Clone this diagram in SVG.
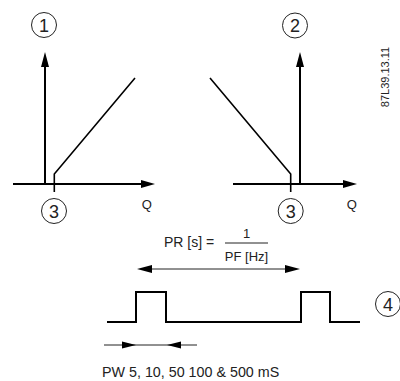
<svg xmlns="http://www.w3.org/2000/svg" width="400" height="381" viewBox="0 0 400 381">
<style>
.axis{stroke:#000;stroke-width:2;fill:none}
.curve{stroke:#000;stroke-width:1.6;fill:none}
.thin{stroke:#222;stroke-width:1;fill:none}
.circ{stroke:#222;stroke-width:1;fill:#fff}
.num{font-family:"Liberation Sans",Arial,sans-serif;font-size:18px;fill:#222;text-anchor:middle}
.lbl{font-family:"Liberation Sans",Arial,sans-serif;font-size:13px;fill:#222}
.head{fill:#000;stroke:none}
</style>
<rect width="400" height="381" fill="#fff"/>
<g id="connectors">
  <!-- left graph axes -->
  <line class="axis" x1="45" y1="185" x2="45" y2="64"/>
  <polygon class="head" points="45,52 41,67 49,67"/>
  <line class="axis" x1="13" y1="184" x2="145" y2="184"/>
  <polygon class="head" points="155,184 141,180 141,188"/>
  <polyline class="curve" points="54.3,192 54.3,174 135,78"/>
  <!-- right graph axes -->
  <line class="axis" x1="300" y1="185" x2="300" y2="64"/>
  <polygon class="head" points="300,52 296,67 304,67"/>
  <line class="axis" x1="233" y1="184" x2="346" y2="184"/>
  <polygon class="head" points="357,184 343,180 343,188"/>
  <polyline class="curve" points="290.7,192 290.7,174 210,78"/>
  <!-- period arrow -->
  <line class="thin" x1="145" y1="269" x2="292" y2="269"/>
  <polygon class="head" points="137,269 152,265 152,273"/>
  <polygon class="head" points="300,269 285,265 285,273"/>
  <!-- pulse train -->
  <polyline class="axis" points="107,322 136,322 136,292 166,292 166,322 301,322 301,292 330,292 330,322 360,322"/>
  <!-- pulse width arrows -->
  <line class="thin" x1="104" y1="345" x2="197" y2="345"/>
  <polygon class="head" points="136,345 122,341.5 122,348.5"/>
  <polygon class="head" points="167,345 181,341.5 181,348.5"/>
</g>
<g id="n1"><circle class="circ" cx="44" cy="25" r="12.5"/><text class="num" x="44" y="31.5">1</text></g>
<g id="n2"><circle class="circ" cx="295" cy="25.5" r="12.5"/><text class="num" x="295" y="32">2</text></g>
<g id="n3a"><circle class="circ" cx="54" cy="211" r="12.5"/><text class="num" x="54" y="217.5">3</text></g>
<g id="n3b"><circle class="circ" cx="290.7" cy="211" r="12.5"/><text class="num" x="290.7" y="217.5">3</text></g>
<g id="n4"><circle class="circ" cx="388" cy="304" r="12.5"/><text class="num" x="388" y="310.5">4</text></g>
<g id="labels">
  <text class="lbl" x="146.7" y="209" text-anchor="middle" fill="#444">Q</text>
  <text class="lbl" x="351.7" y="209" text-anchor="middle" fill="#444">Q</text>
  <text class="lbl" x="164" y="247" style="font-size:14px">PR [s] =</text>
  <text class="lbl" x="246.5" y="238" text-anchor="middle">1</text>
  <line class="thin" x1="225" y1="243" x2="268" y2="243"/>
  <text class="lbl" x="246.5" y="261" text-anchor="middle">PF [Hz]</text>
  <text class="lbl" x="102" y="377" style="font-size:14.3px">PW 5, 10, 50 100 &amp; 500 mS</text>
  <text class="lbl" transform="translate(389,77) rotate(-90)" text-anchor="middle" style="font-size:11px">87L39.13.11</text>
</g>
</svg>
